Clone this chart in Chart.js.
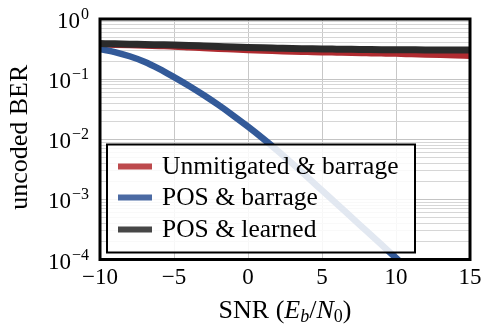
<!DOCTYPE html>
<html>
<head>
<meta charset="utf-8">
<script src="https://cdn.jsdelivr.net/npm/chart.js@4"></script>
<style>
  body { margin: 0; background: white; }
  #wrap { width: 491px; height: 332px; }
</style>
</head>
<body>
<div id="wrap"><canvas id="myChart"></canvas></div>
<script>
// data
const snr = [-10, -9, -8, -7, -6, -5, -4, -3, -2, -1, 0, 1, 2, 3, 4, 5, 6, 7, 8, 9, 10, 11, 12, 13, 14, 15];
const unmitigatedBarrage = [0.377, 0.371, 0.365, 0.359, 0.353, 0.347, 0.337, 0.327, 0.318, 0.310, 0.302, 0.296, 0.291, 0.286, 0.282, 0.278, 0.275, 0.272, 0.269, 0.266, 0.263, 0.259, 0.255, 0.251, 0.247, 0.243];
const posBarrage = [0.316, 0.282, 0.240, 0.195, 0.148, 0.108, 0.0776, 0.0543, 0.0372, 0.0248, 0.0162, 0.01035, 0.00646, 0.00394, 0.00237, 0.00141, 0.000841, 0.000501, 0.000299, 0.000178, 0.000106, 0.000063, null, null, null, null];
const posLearned = [0.391, 0.386, 0.382, 0.377, 0.373, 0.369, 0.363, 0.356, 0.349, 0.342, 0.336, 0.331, 0.327, 0.323, 0.320, 0.317, 0.315, 0.313, 0.311, 0.309, 0.308, 0.307, 0.306, 0.306, 0.305, 0.305];

const xTicks = [-10, -5, 0, 5, 10, 15];
const yDecades = [-4, -3, -2, -1, 0];
const yMinor = [2, 3, 4, 5, 6, 7, 8, 9];

const labels = ["Unmitigated & barrage", "POS & barrage", "POS & learned"];
const lineColors = ["#b02b30", "#335a99", "#2b2b2b"];
const legendColors = ["#bd4a4d", "#4b6aa3", "#474747"];

const serif = "'Liberation Serif', 'DejaVu Serif', serif";

function pts(ys) {
  return snr.map((x, i) => ({ x: x, y: ys[i] }));
}

const drawExtras = {
  id: "drawExtras",
  afterDatasetsDraw(chart) {
    const ctx = chart.ctx;
    const ca = chart.chartArea;
    // legend box inside plot
    const lx = ca.left + 7, ly = ca.bottom - 7 - 108;
    ctx.save();
    ctx.fillStyle = "rgba(255,255,255,0.86)";
    ctx.fillRect(lx, ly, 308, 108);
    ctx.strokeStyle = "#000";
    ctx.lineWidth = 2;
    ctx.strokeRect(lx, ly, 308, 108);
    const rows = [22, 53, 85];
    ctx.font = "25.5px " + serif;
    ctx.textBaseline = "middle";
    labels.forEach((t, i) => {
      ctx.strokeStyle = legendColors[i];
      ctx.lineWidth = 6;
      ctx.beginPath();
      ctx.moveTo(lx + 11, ly + rows[i]);
      ctx.lineTo(lx + 45, ly + rows[i]);
      ctx.stroke();
      ctx.fillStyle = "#000";
      ctx.fillText(t, lx + 55, ly + rows[i] + 1);
    });
    ctx.restore();
  },
  afterDraw(chart) {
    const ctx = chart.ctx;
    const ca = chart.chartArea;
    const ys = chart.scales.y;
    ctx.save();
    // frame
    ctx.strokeStyle = "#000";
    ctx.lineWidth = 3;
    ctx.strokeRect(ca.left, ca.top, ca.right - ca.left, ca.bottom - ca.top);

    // y tick labels 10^n
    ctx.fillStyle = "#000";
    ctx.textBaseline = "alphabetic";
    yDecades.forEach(e => {
      const py = ys.getPixelForValue(Math.pow(10, e));
      const exp = e < 0 ? "\u2212" + Math.abs(e) : String(e);
      ctx.font = "16px " + serif;
      const ew = ctx.measureText(exp).width;
      const right = ca.left - 11;
      ctx.textAlign = "right";
      ctx.fillText(exp, right, py);
      ctx.font = "23px " + serif;
      ctx.fillText("10", right - ew - 1, py + 9);
    });

    // y title
    ctx.save();
    ctx.translate(20, (ca.top + ca.bottom) / 2 - 2);
    ctx.rotate(-Math.PI / 2);
    ctx.textAlign = "center";
    ctx.textBaseline = "middle";
    ctx.font = "26px " + serif;
    ctx.fillText("uncoded BER", 0, 0);
    ctx.restore();

    // x title  SNR (E_b/N_0)
    const parts = [
      { t: "SNR (", f: "26px " + serif, dy: 0 },
      { t: "E", f: "italic 26px " + serif, dy: 0 },
      { t: "b", f: "italic 18px " + serif, dy: 4 },
      { t: "/", f: "26px " + serif, dy: 0 },
      { t: "N", f: "italic 26px " + serif, dy: 0 },
      { t: "0", f: "18px " + serif, dy: 4 },
      { t: ")", f: "26px " + serif, dy: 0 }
    ];
    let total = 0;
    parts.forEach(p => { ctx.font = p.f; p.w = ctx.measureText(p.t).width; total += p.w; });
    let x = (ca.left + ca.right) / 2 - total / 2;
    ctx.textAlign = "left";
    parts.forEach(p => {
      ctx.font = p.f;
      ctx.fillText(p.t, x, 318 + p.dy);
      x += p.w;
    });
    ctx.restore();
  }
};

const config = {
  type: "line",
  data: {
    datasets: [
      { label: labels[0], data: pts(unmitigatedBarrage), borderColor: lineColors[0], borderWidth: 6, order: 3 },
      { label: labels[1], data: pts(posBarrage), borderColor: lineColors[1], borderWidth: 6.5, order: 2 },
      { label: labels[2], data: pts(posLearned), borderColor: lineColors[2], borderWidth: 7, order: 1 }
    ]
  },
  options: {
    responsive: true,
    maintainAspectRatio: false,
    devicePixelRatio: 1,
    animation: false,
    layout: { padding: { left: 0, top: 19, right: 21, bottom: 0 } },
    elements: {
      point: { radius: 0 },
      line: { cubicInterpolationMode: "monotone", borderCapStyle: "butt", fill: false }
    },
    datasets: { line: { clip: 0 } },
    plugins: { legend: { display: false }, tooltip: { enabled: false } },
    scales: {
      x: {
        type: "linear",
        min: -10,
        max: 15,
        afterBuildTicks: s => { s.ticks = xTicks.map(v => ({ value: v })); },
        afterFit: s => { s.height = 72.5; },
        grid: { color: "#c8c8c8", lineWidth: 1, drawTicks: false },
        border: { display: false },
        ticks: {
          padding: 5,
          color: "#000",
          font: { family: serif, size: 23 },
          callback: v => (v < 0 ? "\u2212" + Math.abs(v) : String(v))
        }
      },
      y: {
        type: "logarithmic",
        min: 1e-4,
        max: 1,
        afterBuildTicks: s => {
          const t = [];
          yDecades.forEach(e => {
            t.push({ value: Math.pow(10, e), major: true });
            if (e < 0) yMinor.forEach(m => t.push({ value: m * Math.pow(10, e) }));
          });
          s.ticks = t;
        },
        afterFit: s => { s.width = 100; },
        grid: {
          drawTicks: false,
          lineWidth: 1,
          color: c => (c.tick && c.tick.major ? "#c4c4c4" : "#d6d6d6")
        },
        border: { display: false },
        ticks: { display: false }
      }
    }
  },
  plugins: [drawExtras]
};

new Chart(document.getElementById("myChart"), config);
</script>
</body>
</html>
